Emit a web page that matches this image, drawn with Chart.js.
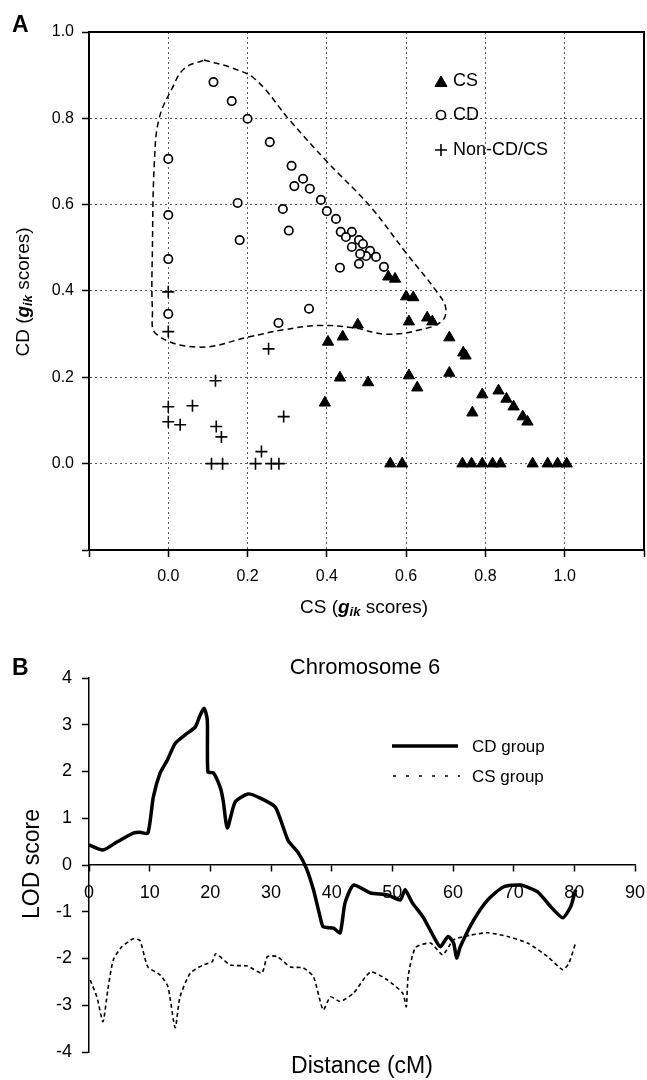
<!DOCTYPE html>
<html>
<head>
<meta charset="utf-8">
<script src="https://cdn.jsdelivr.net/npm/chart.js@4.4.0/dist/chart.umd.min.js"></script>
<style>
  body { margin: 0; background: #fff; width: 647px; height: 1080px; position: relative; overflow: hidden; }
  canvas { position: absolute; left: 0; }
  #chartA { top: 0; }
  #chartB { top: 620px; }
</style>
</head>
<body>
<canvas id="chartA" width="647" height="620"></canvas>
<canvas id="chartB" width="647" height="460"></canvas>
<script>
// ---- panel A data (g_ik scores) ----
const csX = [0.555, 0.572, 0.60, 0.618, 0.607, 0.653, 0.666, 0.478, 0.403, 0.44, 0.709, 0.744, 0.75,
  0.709, 0.607, 0.433, 0.504, 0.628, 0.395, 0.792, 0.833, 0.853, 0.871, 0.894, 0.906, 0.767,
  0.56, 0.59, 0.742, 0.765, 0.792, 0.818, 0.838, 0.919, 0.957, 0.982, 1.005];
const csY = [0.433, 0.428, 0.387, 0.385, 0.329, 0.338, 0.329, 0.322, 0.282, 0.294, 0.292, 0.257, 0.25,
  0.21, 0.204, 0.199, 0.188, 0.176, 0.141, 0.16, 0.169, 0.15, 0.132, 0.109, 0.097, 0.118,
  0, 0, 0, 0, 0, 0, 0, 0, 0, 0, 0];

const cdX = [0.114, 0.16, 0.20, 0.256, 0.311, 0.34, 0.318, 0.357, 0.385, 0.40, 0.289, 0.304, 0.175, 0.18,
  0, 0, 0, 0, 0.278, 0.355, 0.423, 0.435, 0.463, 0.448, 0.481, 0.491, 0.463, 0.509, 0.499, 0.484,
  0.524, 0.481, 0.433, 0.544];
const cdY = [0.884, 0.84, 0.799, 0.745, 0.69, 0.66, 0.643, 0.637, 0.611, 0.585, 0.59, 0.54, 0.604, 0.518,
  0.706, 0.576, 0.474, 0.347, 0.326, 0.359, 0.567, 0.537, 0.537, 0.525, 0.518, 0.509, 0.502, 0.493, 0.481, 0.486,
  0.479, 0.463, 0.454, 0.456];

const nonX = [0, 0, 0.253, 0.119, 0, 0.061, 0, 0.03, 0.121, 0.134, 0.291, 0.235, 0.109, 0.137, 0.22, 0.26, 0.279];
const nonY = [0.398, 0.306, 0.266, 0.192, 0.132, 0.134, 0.097, 0.09, 0.086, 0.062, 0.109, 0.028, 0, 0, 0, 0, 0];

// dashed outline round the CD group
const hullX = [0.09, 0.16, 0.22, 0.306, 0.40, 0.51, 0.60, 0.68, 0.70, 0.69, 0.635, 0.55, 0.466, 0.38, 0.29,
  0.205, 0.078, -0.03, -0.04, -0.04, -0.035, -0.023, 0.01, 0.04, 0.09];
const hullY = [0.935, 0.917, 0.89, 0.796, 0.70, 0.595, 0.488, 0.395, 0.36, 0.33, 0.31, 0.30, 0.315, 0.32, 0.31,
  0.294, 0.27, 0.30, 0.356, 0.50, 0.70, 0.80, 0.87, 0.915, 0.935];

const ticksA_x = [-0.2, 0, 0.2, 0.4, 0.6, 0.8, 1.0, 1.2];
const ticksA_y = [-0.2, 0, 0.2, 0.4, 0.6, 0.8, 1.0];

// ---- panel B data (chromosome 6) ----
const cdDist = [0, 2.3, 4.6, 7.3, 8.4, 9.7, 10.6, 11.7, 12.9, 14.2, 15.8, 17.5, 18.3, 19.0, 19.5, 19.6, 20.5,
  21.6, 22.1, 22.8, 24.1, 26.2, 27.9, 30.7, 32.8, 34.5, 35.8, 37.0, 38.1, 38.6, 40.3, 41.4, 42.2, 43.6,
  46.4, 49.2, 51.3, 52.1, 53.3, 55, 57.1, 57.9, 59.2, 60.1, 60.6, 61.2, 63.4, 65.7, 68.3, 71.1, 73.9,
  76.1, 78.1, 79.4, 80.2];
const cdLod = [0.43, 0.32, 0.49, 0.68, 0.70, 0.68, 1.45, 1.96, 2.24, 2.6, 2.78, 2.95, 3.2, 3.35, 3.1, 1.99, 1.97,
  1.67, 1.39, 0.79, 1.35, 1.52, 1.45, 1.24, 0.53, 0.26, -0.06, -0.53, -1.11, -1.32, -1.35, -1.45, -0.81, -0.43,
  -0.6, -0.64, -0.75, -0.53, -0.81, -1.1, -1.6, -1.75, -1.53, -1.67, -1.99, -1.75, -1.18, -0.75, -0.47, -0.43, -0.57,
  -0.89, -1.13, -0.89, -0.53];

const csDist = [0.2, 1.3, 2.3, 3.1, 4.0, 5.4, 7.3, 8.4, 9.7, 11.7, 13.0, 14.2, 15.0, 16.7, 18.8, 20.3, 20.9,
  23.3, 26.1, 28.5, 29.4, 31.0, 33.2, 35.3, 37.0, 38.6, 39.8, 41.4, 43.6, 46.4, 49.2, 51.7, 52.3, 52.6,
  53.8, 56.3, 58.3, 60.1, 62.9, 65.7, 69, 72.3, 75.6, 78.1, 79.1, 80.2];
const csLod = [-2.46, -2.82, -3.35, -2.67, -2.03, -1.75, -1.58, -1.62, -2.18, -2.35, -2.6, -3.48, -2.82, -2.31,
  -2.14, -2.07, -1.9, -2.14, -2.16, -2.31, -1.96, -1.96, -2.18, -2.2, -2.39, -3.1, -2.82, -2.92, -2.74, -2.29,
  -2.46, -2.74, -3.03, -2.39, -1.77, -1.67, -1.92, -1.6, -1.5, -1.45, -1.53, -1.67, -1.96, -2.24, -2.1, -1.67];

const ticksB_x = [0, 10, 20, 30, 40, 50, 60, 70, 80, 90];
const ticksB_y = [-4, -3, -2, -1, 0, 1, 2, 3, 4];

const FONT = "'Liberation Sans', Arial, Helvetica, sans-serif";
Chart.defaults.font.family = FONT;
Chart.defaults.color = '#000';

function toPts(xs, ys) {
  return xs.map((x, i) => ({x: x, y: ys[i]}));
}

// no extra side room for edge tick labels
function noSidePad(s) {
  s.paddingLeft = 0;
  s.paddingRight = 0;
}

// draw text made of pieces (normal / italic / subscript), centred on (cx, cy)
function richText(ctx, parts, cx, cy, rotate) {
  ctx.save();
  ctx.translate(cx, cy);
  if (rotate) ctx.rotate(-Math.PI / 2);
  ctx.textBaseline = 'middle';
  ctx.textAlign = 'left';
  let total = 0;
  parts.forEach(p => { ctx.font = p.font; total += ctx.measureText(p.text).width; });
  let x = -total / 2;
  parts.forEach(p => {
    ctx.font = p.font;
    ctx.fillText(p.text, x, p.dy || 0);
    x += ctx.measureText(p.text).width;
  });
  ctx.restore();
}

function gikLabel(prefix) {
  return [
    {text: prefix + ' (', font: '19px ' + FONT},
    {text: 'g', font: 'italic bold 19px ' + FONT},
    {text: 'ik', font: 'italic bold 13px ' + FONT, dy: 4},
    {text: ' scores)', font: '19px ' + FONT}
  ];
}

const panelA = {
  id: 'panelA',
  afterDraw(chart) {
    const ctx = chart.ctx;
    const a = chart.chartArea;
    ctx.save();
    ctx.strokeStyle = '#000';
    ctx.lineWidth = 2;
    ctx.beginPath();
    ctx.moveTo(a.left, a.top);
    ctx.lineTo(a.right, a.top);
    ctx.lineTo(a.right, a.bottom);
    ctx.stroke();

    ctx.fillStyle = '#000';
    ctx.font = 'bold 23px ' + FONT;
    ctx.textBaseline = 'alphabetic';
    ctx.fillText('A', 12, 32);

    richText(ctx, gikLabel('CS'), 364, 608, false);
    richText(ctx, gikLabel('CD'), 24, 292, true);

    // legend
    const items = [
      {ds: chart.data.datasets[1], y: 81, r: 7},
      {ds: chart.data.datasets[2], y: 115, r: 4.5},
      {ds: chart.data.datasets[3], y: 150, r: 6}
    ];
    ctx.font = '18px ' + FONT;
    ctx.textBaseline = 'middle';
    items.forEach(it => {
      ctx.fillStyle = it.ds.backgroundColor;
      ctx.strokeStyle = it.ds.borderColor;
      ctx.lineWidth = it.ds.borderWidth;
      Chart.helpers.drawPoint(ctx, {pointStyle: it.ds.pointStyle, radius: it.r, rotation: 0, borderWidth: it.ds.borderWidth}, 441, it.y + (it.ds.pointStyle === 'triangle' ? 2 : 0));
      ctx.fillStyle = '#000';
      ctx.fillText(it.ds.label, 453, it.y);
    });
    ctx.restore();
  }
};

const gridA = ctx => {
  const v = ctx.tick ? ctx.tick.value : 0;
  return (v < -0.01 || v > 0.99) ? 'rgba(0,0,0,0)' : '#5a5a5a';
};
const gridAx = ctx => {
  const v = ctx.tick ? ctx.tick.value : 0;
  return (v < -0.01 || v > 1.01) ? 'rgba(0,0,0,0)' : '#5a5a5a';
};

new Chart(document.getElementById('chartA'), {
  type: 'scatter',
  data: {
    datasets: [
      {label: 'outline', data: toPts(hullX, hullY), showLine: true, borderColor: '#000', borderWidth: 1.5,
        borderDash: [6, 4], tension: 0.4, pointRadius: 0, fill: false},
      {label: 'CS', data: toPts(csX, csY), pointStyle: 'triangle', pointRadius: 6.5,
        backgroundColor: '#000', borderColor: '#000', borderWidth: 1},
      {label: 'CD', data: toPts(cdX, cdY), pointStyle: 'circle', pointRadius: 4.2,
        backgroundColor: '#fff', borderColor: '#000', borderWidth: 1.7},
      {label: 'Non-CD/CS', data: toPts(nonX, nonY), pointStyle: 'cross', pointRadius: 6,
        backgroundColor: '#000', borderColor: '#000', borderWidth: 1.6}
    ]
  },
  options: {
    responsive: false,
    animation: false,
    layout: {autoPadding: false, padding: {top: 32, right: 3, left: 0, bottom: 0}},
    plugins: {legend: {display: false}, tooltip: {enabled: false}},
    scales: {
      x: {
        type: 'linear', min: -0.2, max: 1.2,
        afterBuildTicks: s => { s.ticks = ticksA_x.map(v => ({value: v})); },
        afterFit: s => { s.height = 70; noSidePad(s); },
        ticks: {font: {size: 16}, padding: 10, maxRotation: 0, autoSkip: false,
          callback: v => (v < -0.01 || v > 1.01) ? '' : v.toFixed(1)},
        grid: {color: gridAx, lineWidth: 1, tickColor: '#000', tickLength: 7, tickWidth: 1.5, tickBorderDash: []},
        border: {display: true, color: '#000', width: 2, dash: [2, 3]}
      },
      y: {
        type: 'linear', min: -0.2, max: 1.0,
        afterBuildTicks: s => { s.ticks = ticksA_y.map(v => ({value: v})); },
        afterFit: s => { s.width = 89; },
        ticks: {font: {size: 16}, padding: 8, autoSkip: false,
          callback: v => (v < -0.01) ? '' : v.toFixed(1)},
        grid: {color: gridA, lineWidth: 1, tickColor: '#000', tickLength: 7, tickWidth: 1.5, tickBorderDash: []},
        border: {display: true, color: '#000', width: 2, dash: [2, 3]}
      }
    }
  },
  plugins: [panelA]
});

const panelB = {
  id: 'panelB',
  afterDraw(chart) {
    const ctx = chart.ctx;
    ctx.save();
    ctx.fillStyle = '#000';
    ctx.font = 'bold 23px ' + FONT;
    ctx.textBaseline = 'alphabetic';
    ctx.fillText('B', 12, 55);

    richText(ctx, [{text: 'Chromosome 6', font: '22px ' + FONT}], 365, 48, false);
    richText(ctx, [{text: 'Distance (cM)', font: '23px ' + FONT}], 362, 447, false);
    richText(ctx, [{text: 'LOD score', font: '23px ' + FONT}], 33, 244, true);

    // legend
    const cd = chart.data.datasets[0], cs = chart.data.datasets[1];
    ctx.strokeStyle = '#000';
    ctx.lineWidth = cd.borderWidth;
    ctx.beginPath(); ctx.moveTo(392, 126); ctx.lineTo(458, 126); ctx.stroke();
    ctx.lineWidth = cs.borderWidth;
    ctx.setLineDash([3, 10]);
    ctx.beginPath(); ctx.moveTo(393, 156); ctx.lineTo(460, 156); ctx.stroke();
    ctx.setLineDash([]);
    ctx.font = '17px ' + FONT;
    ctx.textBaseline = 'middle';
    ctx.fillText(cd.label, 472, 127);
    ctx.fillText(cs.label, 472, 157);
    ctx.restore();
  }
};

new Chart(document.getElementById('chartB'), {
  type: 'scatter',
  data: {
    datasets: [
      {label: 'CD group', data: toPts(cdDist, cdLod), showLine: true, borderColor: '#000', borderWidth: 3.5,
        tension: 0.2, pointRadius: 0, fill: false},
      {label: 'CS group', data: toPts(csDist, csLod), showLine: true, borderColor: '#000', borderWidth: 1.6,
        borderDash: [4, 3], tension: 0.2, pointRadius: 0, fill: false}
    ]
  },
  options: {
    responsive: false,
    animation: false,
    layout: {autoPadding: false, padding: {top: 58, right: 12, left: 0, bottom: 28}},
    plugins: {legend: {display: false}, tooltip: {enabled: false}},
    scales: {
      x: {
        type: 'linear', min: 0, max: 90, position: {y: 0},
        afterBuildTicks: s => { s.ticks = ticksB_x.map(v => ({value: v})); },
        afterFit: s => { s.height = 0; noSidePad(s); },
        ticks: {font: {size: 18}, padding: 11, maxRotation: 0, autoSkip: false, callback: v => String(v)},
        grid: {drawOnChartArea: false, drawTicks: true, tickColor: '#000', tickLength: 6, tickWidth: 1.5},
        border: {display: true, color: '#000', width: 1.5}
      },
      y: {
        type: 'linear', min: -4, max: 4,
        afterBuildTicks: s => { s.ticks = ticksB_y.map(v => ({value: v})); },
        afterFit: s => { s.width = 89; },
        ticks: {font: {size: 18}, padding: 10, autoSkip: false, callback: v => String(v)},
        grid: {drawOnChartArea: false, drawTicks: true, tickColor: '#000', tickLength: 7, tickWidth: 1.5},
        border: {display: true, color: '#000', width: 1.5}
      }
    }
  },
  plugins: [panelB]
});
</script>
</body>
</html>
